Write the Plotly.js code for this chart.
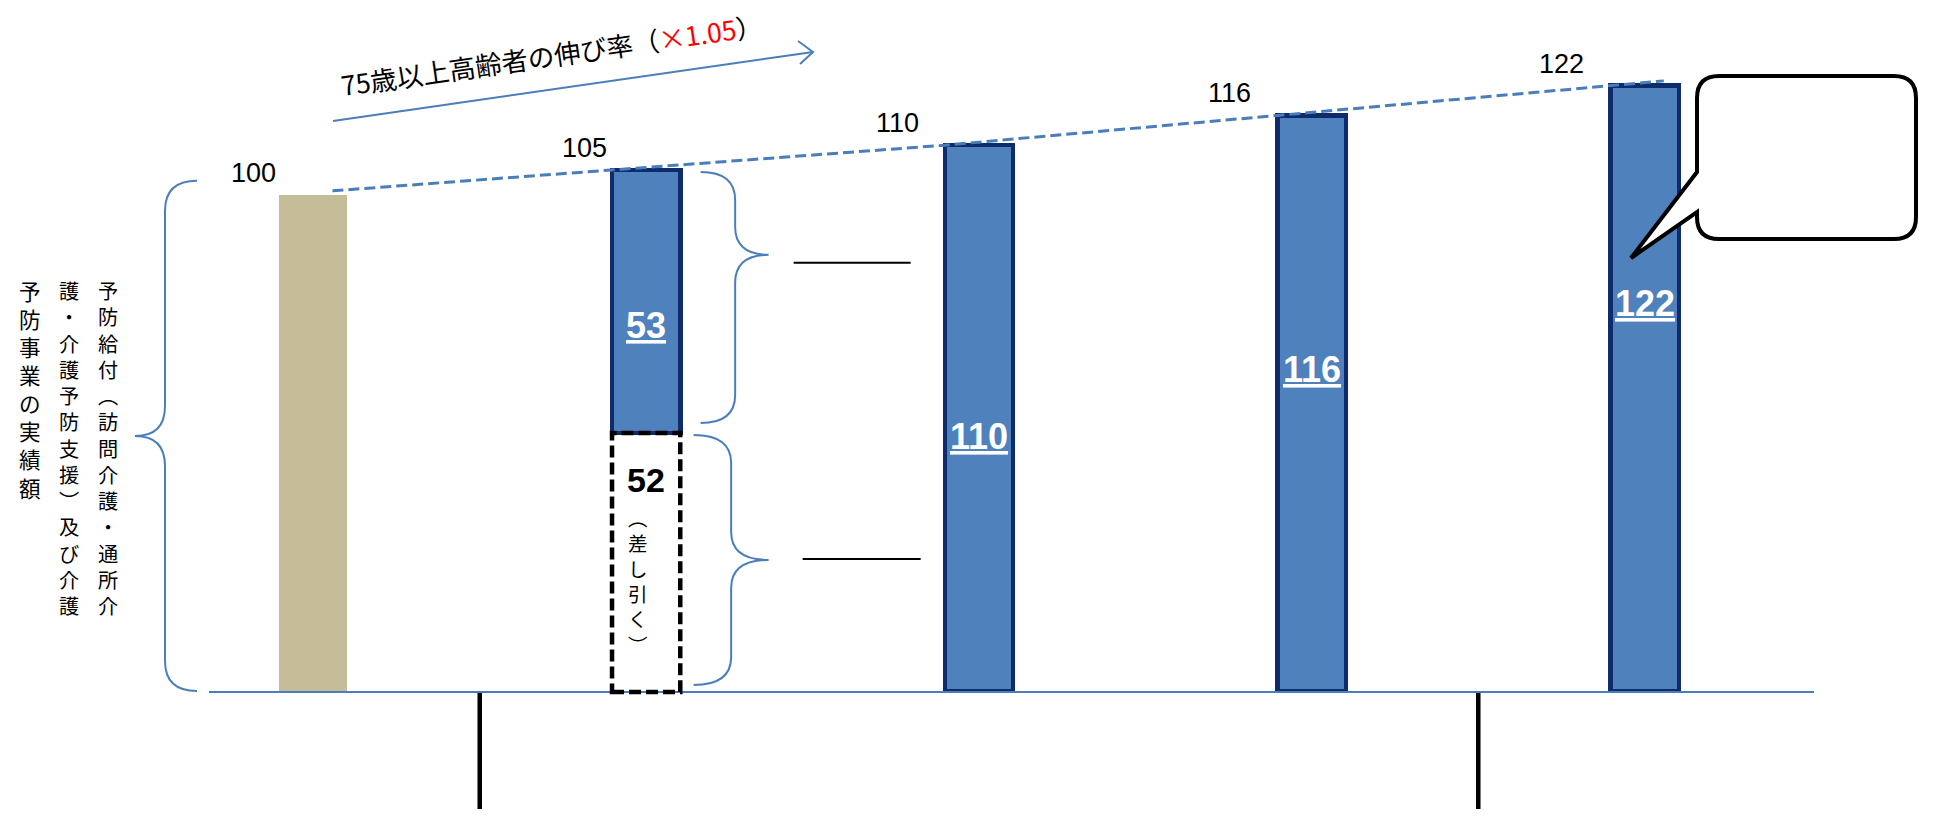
<!DOCTYPE html>
<html>
<head>
<meta charset="utf-8">
<script src="https://cdn.plot.ly/plotly-3.0.1.min.js"></script>
<style>html,body{margin:0;padding:0;background:#fff;}#chart{width:1933px;height:818px;}</style>
</head>
<body>
<div id="chart"></div>
<script>
// ---------------- data ----------------
const categories = ['実績額', '1年目', '2年目', '3年目', '4年目'];
const actualValues = [100, null, null, null, null];      // 実績額 (beige)
const subtractedValues = [null, 52, null, null, null];   // 差し引く (dashed)
const upperValues = [null, 53, 110, 116, 122];           // blue bars
const totalValues = [100, 105, 110, 116, 122];           // values above bars
const subtractedNote = '（差し引く）';
const growthTitle = '75歳以上高齢者の伸び率';
const growthRate = '×1.05';
const leftTextColumns = ['予防給付（訪問介護・通所介', '護・介護予防支援）及び介護', '予防事業の実績額'];

// ---------------- layout geometry ----------------
const W = 1933, H = 818;
const PL = 209, PR = 1814, BASE = 691;
const X0 = 313.3, XS = 332.85, YK = 4.962;
const xr0 = -(X0 - PL) / XS, xr1 = xr0 + (PR - PL) / XS;
const yr1 = BASE / YK;
const BW = 0.205, hw = BW / 2, hwpx = hw * XS;
const xp = i => X0 + XS * i;
const yp = v => BASE - YK * v;
const fx = p => p / W;
const fy = p => 1 - p / H;
const pt = (x, y) => fx(x) + ',' + fy(y);
const idx = categories.map((c, i) => i);
const vert = s => Array.from(s).map(ch => ch === '（' ? '︵' : ch === '）' ? '︶' : ch);

const BLUE = '#4F81BD', NAVY = '#0E2B6B', LINEBLUE = '#4A7EBB', BEIGE = '#C4BD97';
const NUMFONT = 'Liberation Sans, Arial, sans-serif';
const JPFONT = 'Noto Sans CJK JP, sans-serif';
const CJK_BOX = 1.45; // line box height of the CJK font, in em

// dashed growth line through tops of bars
const lineX = [], lineY = [];
{
  const sx = hw - 0.045;
  const s12 = totalValues[2] - totalValues[1];
  lineX.push(sx); lineY.push(totalValues[1] - s12 * ((1 - hw) - sx));
  for (let i = 1; i < totalValues.length; i++) { lineX.push(i - hw); lineY.push(totalValues[i]); }
  const n = totalValues.length - 1;
  const ext = 0.16;
  lineX.push(n - hw + ext); lineY.push(totalValues[n] + (totalValues[n] - totalValues[n - 1]) * ext);
}

const traces = [
  {type: 'bar', x: idx, y: actualValues, width: BW, marker: {color: BEIGE, line: {width: 0}}, hoverinfo: 'skip'},
  {type: 'bar', x: idx, y: subtractedValues, width: BW, marker: {color: 'rgba(255,255,255,0)', line: {width: 0}}, hoverinfo: 'skip'},
  {type: 'bar', x: idx, y: upperValues, width: BW, marker: {color: BLUE, line: {color: NAVY, width: 4.5}}, hoverinfo: 'skip'},
  {type: 'scatter', mode: 'lines', x: lineX, y: lineY, line: {color: LINEBLUE, width: 3, dash: '11px,5px'}, hoverinfo: 'skip', cliponaxis: false}
];

// ---------------- shapes ----------------
function brace(xEnd, xStem, xTip, yTop, yTip, yBot, r) {
  return 'M ' + pt(xEnd, yTop) + ' Q ' + pt(xStem, yTop) + ' ' + pt(xStem, yTop + r) +
    ' L ' + pt(xStem, yTip - r) + ' Q ' + pt(xStem, yTip) + ' ' + pt(xTip, yTip) +
    ' Q ' + pt(xStem, yTip) + ' ' + pt(xStem, yTip + r) +
    ' L ' + pt(xStem, yBot - r) + ' Q ' + pt(xStem, yBot) + ' ' + pt(xEnd, yBot);
}
const shapes = [];
const braceLine = {color: LINEBLUE, width: 2};
// left brace around beige bar
{
  const top = yp(totalValues[0]) - 14, bot = BASE, tip = (top + bot) / 2;
  shapes.push({type: 'path', xref: 'paper', yref: 'paper', path: brace(197, 165, 135, top, tip, bot, 30), line: braceLine});
}
// right braces for bar 2
const b1 = xp(1);
const upTop = yp(totalValues[1]) + 2, upBot = yp(subtractedValues[1]) - 10, upTip = upTop + 0.33 * (upBot - upTop);
shapes.push({type: 'path', xref: 'paper', yref: 'paper', path: brace(b1 + 54.5, b1 + 89, b1 + 122.5, upTop, upTip, upBot, 28), line: braceLine});
const loTop = yp(subtractedValues[1]) + 2, loBot = BASE - 6, loTip = (loTop + loBot) / 2;
shapes.push({type: 'path', xref: 'paper', yref: 'paper', path: brace(b1 + 47.5, b1 + 85, b1 + 122.5, loTop, loTip, loBot, 28), line: braceLine});
// horizontal black lines next to braces
shapes.push({type: 'line', xref: 'paper', yref: 'paper', x0: fx(b1 + 147.5), x1: fx(b1 + 264.5), y0: fy(upTip + 8), y1: fy(upTip + 8), line: {color: '#000', width: 2}});
shapes.push({type: 'line', xref: 'paper', yref: 'paper', x0: fx(b1 + 156.5), x1: fx(b1 + 274.5), y0: fy(loTip - 1), y1: fy(loTip - 1), line: {color: '#000', width: 2}});
// dashed box for subtracted part
shapes.push({type: 'rect', xref: 'paper', yref: 'paper', x0: fx(b1 - hwpx), x1: fx(b1 + hwpx), y0: fy(yp(0) + 1), y1: fy(yp(subtractedValues[1])),
  line: {color: '#000', width: 4.5, dash: '12px,5px'}, fillcolor: 'rgba(255,255,255,0)'});
// black separators below baseline
[0.5, 3.5].forEach(s => shapes.push({type: 'line', xref: 'paper', yref: 'paper', x0: fx(xp(s)), x1: fx(xp(s)), y0: fy(693), y1: fy(809), line: {color: '#000', width: 4.5}}));
// growth arrow
shapes.push({type: 'line', xref: 'paper', yref: 'paper', x0: fx(333), y0: fy(121), x1: fx(813), y1: fy(52), line: {color: LINEBLUE, width: 2}});
shapes.push({type: 'path', xref: 'paper', yref: 'paper', path: 'M ' + pt(798, 41) + ' L ' + pt(813, 52) + ' L ' + pt(800, 64), line: {color: LINEBLUE, width: 2}});
// callout
shapes.push({type: 'path', xref: 'paper', yref: 'paper', fillcolor: '#fff', line: {color: '#000', width: 4},
  path: 'M ' + pt(1719, 76) + ' L ' + pt(1894, 76) + ' Q ' + pt(1916, 76) + ' ' + pt(1916, 98) +
    ' L ' + pt(1916, 217) + ' Q ' + pt(1916, 239) + ' ' + pt(1894, 239) + ' L ' + pt(1719, 239) +
    ' Q ' + pt(1697, 239) + ' ' + pt(1697, 217) + ' L ' + pt(1697, 212) + ' L ' + pt(1631, 258) +
    ' L ' + pt(1697, 172) + ' L ' + pt(1697, 98) + ' Q ' + pt(1697, 76) + ' ' + pt(1719, 76) + ' Z'});

// ---------------- annotations ----------------
const annotations = [];
const labelDx = [-60, -62, -82, -82, -83];
totalValues.forEach((v, i) => annotations.push({xref: 'x', yref: 'y', x: i, y: v, xshift: labelDx[i], yshift: 22,
  text: String(v), showarrow: false, xanchor: 'center', yanchor: 'middle', font: {family: NUMFONT, size: 27, color: '#000'}}));
const insideLabelPy = [null, 325, 436, 370, 303];
upperValues.forEach((v, i) => { if (v !== null) annotations.push({xref: 'x', yref: 'paper', x: i, y: fy(insideLabelPy[i]),
  text: '<b>' + v + '</b>', showarrow: false, xanchor: 'center', yanchor: 'middle',
  font: {family: NUMFONT, size: 36, color: '#fff', lineposition: 'under'}}); });

// vertical text: one annotation per column, one glyph per line; the glyph size is chosen
// so that successive line boxes just touch (no overlap)
function vAnn(chars, xPx, yTopPx, gap, extra) {
  const size = Math.floor(gap / CJK_BOX * 10) / 10;
  return Object.assign({xref: 'paper', yref: 'paper', x: fx(xPx), y: fy(yTopPx), xanchor: 'center', yanchor: 'top',
    showarrow: false, borderpad: 0, text: chars.join('<br>'), font: {family: JPFONT, size: size, color: '#000'}}, extra || {});
}
// "52" and （差し引く） inside the dashed box
annotations.push({xref: 'x', yref: 'paper', x: 1, y: fy(480), xanchor: 'center', yanchor: 'middle', showarrow: false,
  text: '<b>' + subtractedValues[1] + '</b>', font: {family: NUMFONT, size: 34, color: '#000'}});
annotations.push(Object.assign(vAnn(vert(subtractedNote), 0, 502, 28.3), {xref: 'x', x: 1, xshift: -8}));
// left vertical text (right column first)
const colX = [108, 69, 30];
const colEnd = [643, 643, 510];
leftTextColumns.forEach((s, c) => {
  const chars = vert(s);
  const y0 = 290, y1 = colEnd[c];
  const gap = (y1 - y0) / (chars.length - 1);
  annotations.push(vAnn(chars, colX[c], y0 - gap / 2, gap));
});
// growth arrow title
annotations.push({xref: 'paper', yref: 'paper', x: fx(551), y: fy(55), textangle: -8.2, showarrow: false, xanchor: 'center', yanchor: 'middle',
  text: growthTitle + '（<span style="color:#FF0000">' + growthRate + '</span>）', font: {family: JPFONT, size: 26.5, color: '#000'}});

const layout = {
  width: W, height: H, margin: {l: 0, r: 0, t: 0, b: 0},
  paper_bgcolor: '#fff', plot_bgcolor: '#fff', showlegend: false, barmode: 'stack',
  xaxis: {type: 'linear', range: [xr0, xr1], domain: [PL / W, PR / W], tickvals: idx, ticktext: categories,
    showticklabels: false, ticks: '', showgrid: false, zeroline: false, showline: true, linecolor: LINEBLUE, linewidth: 2,
    layer: 'below traces', fixedrange: true},
  yaxis: {range: [0, yr1], domain: [1 - BASE / H, 1], visible: false, showgrid: false, zeroline: false, fixedrange: true},
  shapes: shapes, annotations: annotations
};
Plotly.newPlot('chart', traces, layout, {displayModeBar: false, staticPlot: true});
</script>
</body>
</html>
